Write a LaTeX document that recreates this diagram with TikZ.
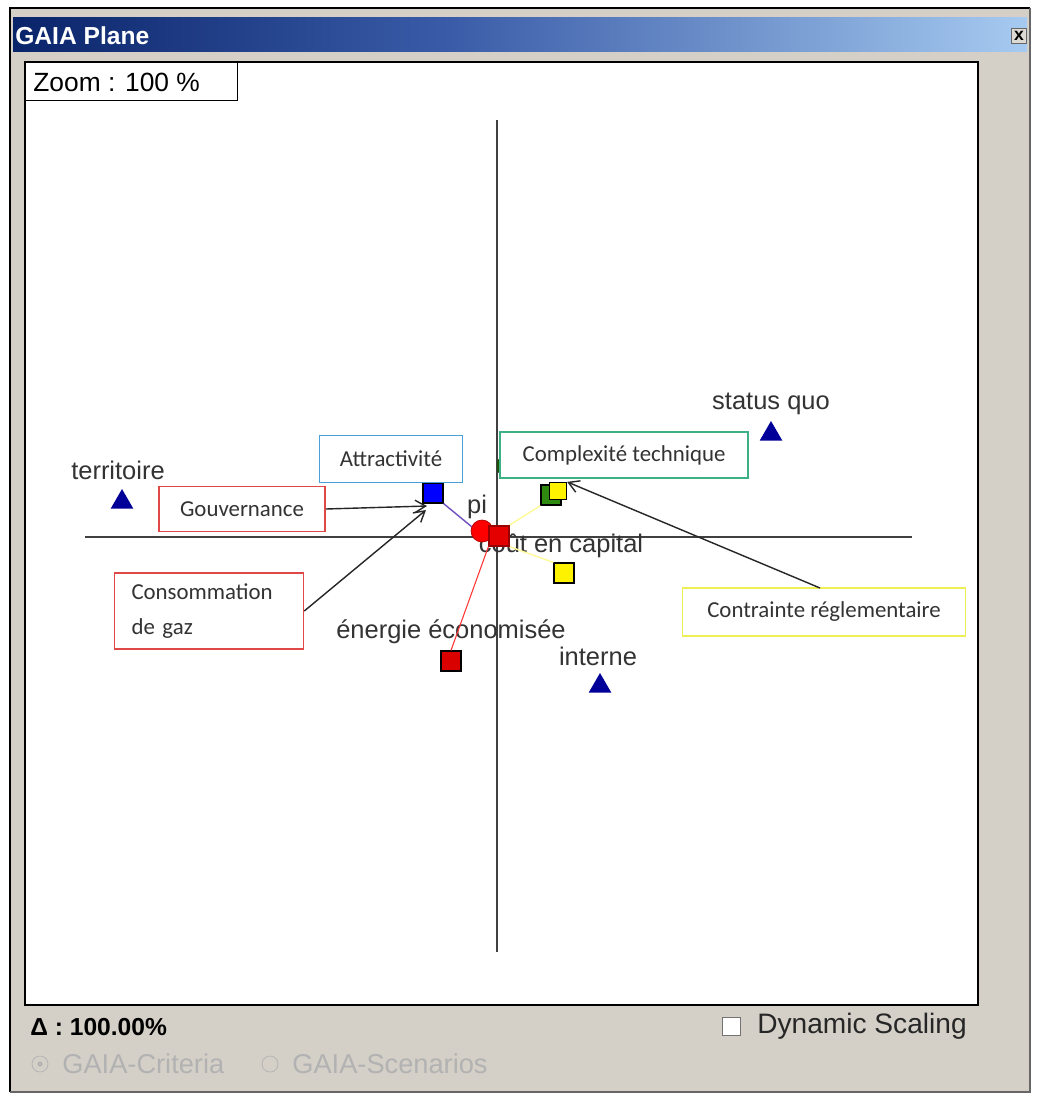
\documentclass[tikz,border=0pt]{standalone}
\usepackage{fontspec}
\setmainfont{Liberation Sans}
\newfontfamily\calibri{Carlito}
\usetikzlibrary{positioning,arrows.meta,shapes.geometric}

\definecolor{wingrey}{HTML}{D4D0C8}
\definecolor{titledark}{HTML}{0A246A}
\definecolor{titlemid}{HTML}{3A5CA8}
\definecolor{titlelight}{HTML}{A6CAF0}
\definecolor{navy}{HTML}{000099}
\definecolor{labelgrey}{HTML}{333333}
\definecolor{notered}{HTML}{E04848}
\definecolor{noteblue}{HTML}{4A9FD8}
\definecolor{notegreen}{HTML}{3DB084}
\definecolor{noteyellow}{HTML}{EEEE55}
\definecolor{critgreen}{HTML}{2E8B10}
\definecolor{critpurple}{HTML}{7050C0}

\begin{document}
\begin{tikzpicture}[x=0.02cm,y=-0.02cm,
  tri/.style={regular polygon, regular polygon sides=3, fill=navy, inner sep=0pt, minimum size=0.52cm},
  sq/.style={draw=black, line width=0.7pt, minimum size=0.4cm, inner sep=0pt},
  lbl/.style={font=\fontsize{14.5}{17}\selectfont, text=labelgrey, inner sep=0pt},
  note/.style={draw, line width=0.9pt, fill=white, font=\calibri\fontsize{13}{16}\selectfont, text=labelgrey, inner sep=0pt},
  arr/.style={-{Straight Barb[length=6pt,width=7pt]}, line width=0.8pt, black!85},
  greyed/.style={font=\fontsize{15.5}{17}\selectfont, text=black!30, inner sep=0pt, anchor=west}]
\useasboundingbox (0,0) rectangle (1039,1108);

% window
\fill[white] (0,0) rectangle (1039,1108);
\fill[wingrey] (10,8) rectangle (1030,1092);
\draw[black, line width=1.2pt] (10,1092) -- (10,8) -- (1030,8);
\draw[black!60, line width=1.2pt] (1030,8) -- (1030,1092) -- (10,1092);
\shade[left color=titledark, right color=titlemid] (13,18) rectangle (450,52);
\shade[left color=titlemid, right color=titlelight] (450,18) rectangle (1027,52);
\node[font=\bfseries\fontsize{14}{16}\selectfont, text=white, anchor=west, inner sep=0pt] (title) at (15,36) {GAIA Plane};
\node[draw=black!60, fill=wingrey!80, minimum size=0.3cm, inner sep=0pt, font=\bfseries\fontsize{10}{10}\selectfont] (close) at (1019,36) {x};

% plot area
\draw[fill=white, line width=1pt] (25,62) rectangle (978,1005);
\node[draw, line width=0.8pt, fill=white, minimum width=4.24cm, minimum height=0.76cm, anchor=north west,
      inner sep=0pt] (zoom) at (25,62) {};
\node[anchor=west, font=\fontsize{15}{17}\selectfont, inner sep=0pt] (zoomtxt) at (33,82) {Zoom : 100 \%};

% axes
\coordinate (vtop) at (497,120);
\coordinate (vbot) at (497,952);
\coordinate (hleft) at (85,537);
\coordinate (hright) at (912,537);
\draw[black!75, line width=1pt] (vtop) -- (vbot);
\draw[black!75, line width=1pt] (hleft) -- (hright);

% labels
\node[lbl] (lterr) at (118,470) {territoire};
\node[lbl] (lstat) at (771,404) {status quo};
\node[lbl] (lint) at (598,656) {interne};
\node[lbl] (lpi) at (477,507) {pi};
\node[lbl] (lcap) at (561,546) {coût en capital};
\node[lbl] (leco) at (451,632) {énergie économisée};

% actions
\node[tri] (terr) at (122,502) {};
\node[tri] (stat) at (771,434) {};
\node[tri] (int) at (600,686) {};

% criteria
\node[sq, fill=blue] (attrsq) at (433,493) {};
\node[sq, fill=red!85!black] (ecosq) at (451,661) {};
\node[sq, fill=yellow] (capsq) at (564,573) {};
\node[sq, fill=critgreen] (complsq) at (551,495) {};
\node[sq, fill=yellow, minimum size=0.34cm] (contrsq) at (558,491) {};
\node[fill=critgreen!60!black, minimum width=0.16cm, minimum height=0.3cm, inner sep=0pt, rounded corners=2pt] (hidsq) at (501,466) {};

% pi
\draw[critpurple, line width=0.8pt] (attrsq.south east) -- (472,527) coordinate (pic);
\draw[yellow!40, line width=0.8pt] (505,528) -- (complsq.south west);
\draw[yellow!40, line width=0.8pt] (505,545) -- (capsq.north west);
\node[circle, fill=red, draw=red!70!black, minimum size=0.44cm, inner sep=0pt] (pidot) at (482,531) {};
\node[sq, fill=red!90!black, draw=red!60!black] (pisq) at (499,536) {};
\draw[red!80, line width=0.6pt] (pisq.south west) -- (ecosq.north);

% notes
\node[note, draw=noteblue, minimum width=2.86cm, minimum height=0.94cm] (attr) at (391,459) {Attractivité};
\node[note, draw=notered, minimum width=3.32cm, minimum height=0.9cm] (gouv) at (242,509) {Gouvernance};
\node[note, draw=notered, minimum width=3.78cm, minimum height=1.52cm, align=left, text width=3.1cm, inner xsep=0.34cm] (gaz) at (209,611) {Consommation\\[4pt]de gaz};
\node[note, draw=notegreen, minimum width=4.96cm, minimum height=0.92cm] (compl) at (624,455) {Complexité technique};
\node[note, draw=noteyellow, minimum width=5.66cm, minimum height=0.96cm] (contr) at (824,612) {Contrainte réglementaire};

% arrows
\coordinate (govtip) at (427,506);
\coordinate (gaztip) at (426,510);
\coordinate (contrfoot) at (820,588);
\draw[arr] (gouv.east) -- (govtip);
\draw[arr] (gaz.east) -- (gaztip);
\draw[arr] (contrfoot) -- (contrsq.north east);

% status bar
\node[font=\bfseries\fontsize{14}{16}\selectfont, anchor=west, inner sep=0pt] (delta) at (30,1027) {Δ : 100.00\%};
\node[draw=black!55, fill=white, minimum size=0.36cm, inner sep=0pt] (dynbox) at (731,1026) {};
\node[font=\fontsize{16}{18}\selectfont, anchor=west, inner sep=0pt, text=black!85] (dyn) at (757,1026) {Dynamic Scaling};
\node[circle, draw=black!30, fill=wingrey, minimum size=0.32cm, inner sep=0pt] (rcrit) at (40,1064) {};
\node[circle, fill=black!30, minimum size=0.1cm, inner sep=0pt] (rdot) at (rcrit) {};
\node[greyed] (crit) at (62,1064) {GAIA-Criteria};
\node[circle, draw=black!30, fill=wingrey, minimum size=0.32cm, inner sep=0pt] (rscen) at (270,1064) {};
\node[greyed] (scen) at (292,1064) {GAIA-Scenarios};
\end{tikzpicture}
\end{document}
